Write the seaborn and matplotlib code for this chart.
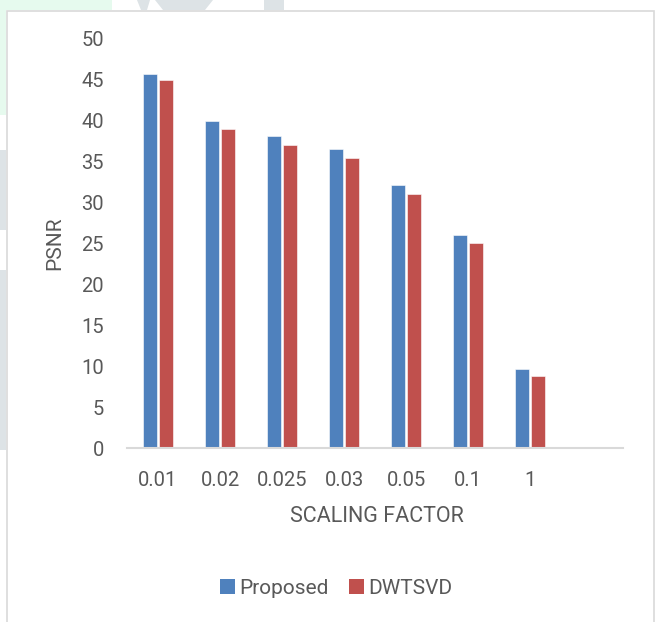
import matplotlib
matplotlib.use("Agg")
import matplotlib.pyplot as plt
import matplotlib.patches as mpatches
import seaborn as sns
import pandas as pd

# Scaling factors and PSNR values for the two watermarking schemes
factors = ["0.01", "0.02", "0.025", "0.03", "0.05", "0.1", "1"]
proposed = [45.7, 40.0, 38.1, 36.5, 32.1, 26.0, 9.7]
dwtsvd = [45.0, 39.0, 37.1, 35.5, 31.1, 25.1, 8.8]
series = ["Proposed", "DWTSVD"]
colors = ["#4F81BD", "#C0504D"]
yticks = [0, 5, 10, 15, 20, 25, 30, 35, 40, 45, 50]

df = pd.DataFrame({
    "factor": factors * 2,
    "psnr": proposed + dwtsvd,
    "method": [series[0]] * len(factors) + [series[1]] * len(factors),
})

sns.set_theme(style="white")
plt.rcParams["font.family"] = ["Roboto", "DejaVu Sans"]
text_color = "#595959"

W, H = 659, 622
fig = plt.figure(figsize=(W / 100, H / 100), dpi=100)
fig.patch.set_facecolor("white")

# faint page decoration around the chart frame
bg = fig.add_axes([0, 0, 1, 1], zorder=-5)
bg.set_xlim(0, W)
bg.set_ylim(H, 0)
bg.axis("off")
green, grey = "#E6FAEE", "#DDE3E6"
deco = [
    mpatches.Rectangle((0, 0), 112, 10, color=green, lw=0),
    mpatches.Rectangle((0, 0), 6, 115, color=green, lw=0),
    mpatches.Rectangle((0, 150), 6, 80, color=grey, lw=0),
    mpatches.Rectangle((0, 270), 6, 180, color=grey, lw=0),
    mpatches.Polygon([(137, 0), (150, 0), (147, 10), (141, 10)], color=grey, lw=0),
    mpatches.Polygon([(155, 0), (213, 0), (205, 10), (163, 10)], color=grey, lw=0),
    mpatches.Rectangle((264, 0), 20, 10, color=grey, lw=0),
]
for p in deco:
    p.set_zorder(1)
    bg.add_patch(p)
# chart frame
bg.add_patch(mpatches.Rectangle((6.5, 10.5), 647, 620, facecolor="white",
                                edgecolor="#D9D9D9", lw=1.2, zorder=3))

left, right, top, bottom = 127, 623, 39, 448
ax = fig.add_axes([left / W, 1 - bottom / H, (right - left) / W, (bottom - top) / H])
ax.set_facecolor("none")

sns.barplot(data=df, x="factor", y="psnr", hue="method", order=factors,
            hue_order=series, palette=colors, width=0.5, gap=0.1,
            saturation=1, edgecolor="white", linewidth=0.4, ax=ax, legend=False)

ax.set_xlim(-0.5, 7.5)
ax.set_ylim(0, 50)
ax.set_yticks(yticks)
ax.set_yticklabels([str(v) for v in yticks])
for s in ["top", "right", "left"]:
    ax.spines[s].set_visible(False)
ax.spines["bottom"].set_color("#D9D9D9")
ax.spines["bottom"].set_linewidth(1.5)
ax.tick_params(axis="both", length=0, labelsize=14.5, labelcolor=text_color)
ax.tick_params(axis="y", pad=16.5)
ax.tick_params(axis="x", pad=16.5)
ax.set_xlabel("")
ax.set_ylabel("")

fig.text(55 / W, 1 - 243 / H, "PSNR", rotation=90, ha="center", va="center",
         fontsize=15, color=text_color)
fig.text(377 / W, 1 - 517 / H, "SCALING FACTOR", ha="center", va="center",
         fontsize=15.5, color=text_color)

handles = [mpatches.Patch(facecolor=c, edgecolor="none", label=s)
           for c, s in zip(colors, series)]
fig.legend(handles=handles, loc="center", bbox_to_anchor=(336 / W, 1 - 588 / H),
           ncol=2, frameon=False, fontsize=15, labelcolor=text_color,
           handlelength=0.72, handleheight=0.72, handletextpad=0.2,
           columnspacing=1.0, borderpad=0, borderaxespad=0)

fig.savefig("out.png", dpi=100, facecolor="white")
